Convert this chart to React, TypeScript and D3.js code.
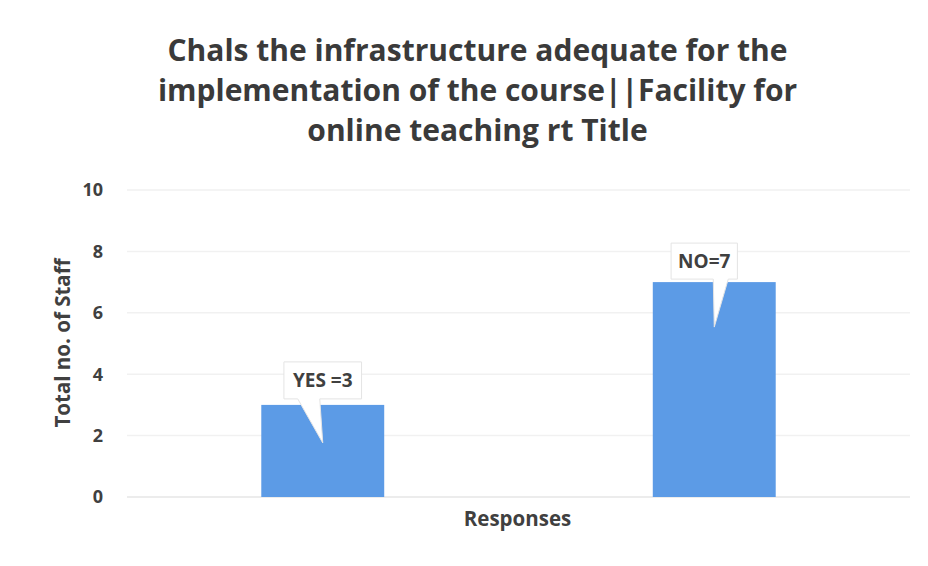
import React from "react";
import * as d3 from "d3";

const categories = ["YES", "NO"];
const values = [3, 7];
const labels = ["YES =3", "NO=7"];
const yTicks = [0, 2, 4, 6, 8, 10];
const titleLines = [
  "Chals the infrastructure adequate for the",
  "implementation of the course||Facility for",
  "online teaching rt Title",
];

// callout layout (relative to bar centre / bar top)
const calloutLayout = [
  { dx: 0, boxBottomGap: 6, boxH: 37, padX: 9, baseL: -25, baseR: -3, tipDx: 0, tipDy: 38 },
  { dx: -10, boxBottomGap: 3, boxH: 36, padX: 7, baseL: -1, baseR: 14, tipDx: 0, tipDy: 45 },
];

const W = 928;
const H = 566;
const FONT = "'Open Sans', 'Noto Sans', sans-serif";
const TEXT = "#404040";
const BAR = "#5c9be6";

function measure(text: string, font: string): number {
  const c = document.createElement("canvas").getContext("2d");
  if (!c) return text.length * 10;
  c.font = font;
  return c.measureText(text).width;
}

export default function App() {
  const x = d3.scaleBand<string>().domain(categories).range([127, 910]).paddingInner(0.686).paddingOuter(0.343);
  const y = d3.scaleLinear().domain([0, 10]).range([497, 190]);
  const labelSize = 19;
  const labelFont = `bold ${labelSize}px ${FONT}`;

  return (
    <svg width={W} height={H} style={{ position: "absolute", left: 0, top: 0, background: "#fff" }}>
      <rect x={0} y={0} width={W} height={H} fill="#fff" />
      {titleLines.map((t, i) => (
        <text key={i} x={477.5} y={61 + i * 40} textAnchor="middle" fontFamily={FONT} fontWeight="bold" fontSize={30} fill="#3a3a3a">
          {t}
        </text>
      ))}
      {yTicks.map((t) => (
        <g key={t}>
          <line x1={127} x2={910} y1={y(t)} y2={y(t)} stroke={t === 0 ? "#e6e6e6" : "#f1f1f1"} strokeWidth={1.5} />
          <text x={103} y={y(t)} dy="0.35em" textAnchor="end" fontFamily={FONT} fontWeight="bold" fontSize={18} fill={TEXT}>
            {t}
          </text>
        </g>
      ))}
      {categories.map((c, i) => (
        <rect key={c} x={x(c)} y={y(values[i])} width={x.bandwidth()} height={y(0) - y(values[i])} fill={BAR} />
      ))}
      {categories.map((c, i) => {
        const L = calloutLayout[i];
        const cx = (x(c) as number) + x.bandwidth() / 2;
        const top = y(values[i]);
        const tw = measure(labels[i], labelFont);
        const bw = tw + 2 * L.padX;
        const bx = cx + L.dx - bw / 2;
        const bBottom = top - L.boxBottomGap;
        const by = bBottom - L.boxH;
        const path = `M${bx},${by} H${bx + bw} V${bBottom} H${cx + L.baseR} L${cx + L.tipDx},${top + L.tipDy} L${cx + L.baseL},${bBottom} H${bx} Z`;
        return (
          <g key={c}>
            <path d={path} fill="#fff" stroke="#e4e4e4" strokeWidth={1} />
            <text x={bx + bw / 2} y={by + L.boxH / 2} dy="0.36em" textAnchor="middle" fontFamily={FONT} fontWeight="bold" fontSize={labelSize} fill={TEXT}>
              {labels[i]}
            </text>
          </g>
        );
      })}
      <text transform={`translate(70,343) rotate(-90)`} textAnchor="middle" fontFamily={FONT} fontWeight="bold" fontSize={20.5} fill={TEXT}>
        Total no. of Staff
      </text>
      <text x={517.5} y={526} textAnchor="middle" fontFamily={FONT} fontWeight="bold" fontSize={20.5} fill={TEXT}>
        Responses
      </text>
    </svg>
  );
}
